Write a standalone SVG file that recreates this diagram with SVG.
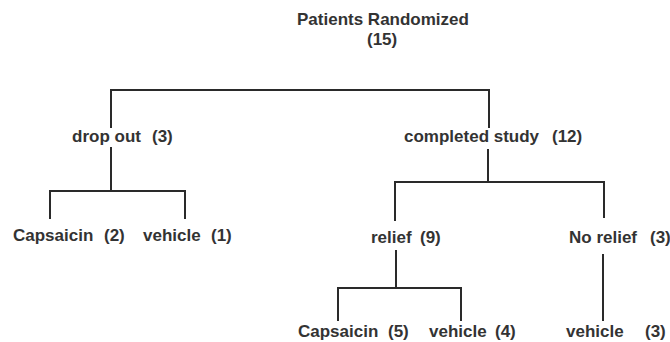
<svg xmlns="http://www.w3.org/2000/svg" width="670" height="342" viewBox="0 0 670 342">
<style>
.t{font-family:"Liberation Sans",Arial,sans-serif;font-size:17px;font-weight:bold;fill:#333;}
.c line{stroke:#2a2a2a;stroke-width:2;stroke-linecap:square;}
</style>
<rect width="670" height="342" fill="#fff"/>
<g class="c" id="connectors">
<line x1="111" y1="90" x2="489" y2="90"/>
<line x1="111" y1="90" x2="111" y2="127"/>
<line x1="489" y1="90" x2="489" y2="127"/>
<line x1="111" y1="148" x2="111" y2="191"/>
<line x1="50" y1="191" x2="185" y2="191"/>
<line x1="50" y1="191" x2="50" y2="218"/>
<line x1="185" y1="191" x2="185" y2="218"/>
<line x1="488" y1="150" x2="488" y2="182"/>
<line x1="395" y1="182" x2="604" y2="182"/>
<line x1="395" y1="182" x2="395" y2="220"/>
<line x1="604" y1="182" x2="604" y2="217"/>
<line x1="396" y1="251" x2="396" y2="288"/>
<line x1="338" y1="288" x2="461" y2="288"/>
<line x1="338" y1="288" x2="338" y2="320"/>
<line x1="461" y1="288" x2="461" y2="320"/>
<line x1="603" y1="255" x2="603" y2="320"/>
</g>
<g id="root"><text class="t" x="297" y="25">Patients Randomized</text><text class="t" x="367" y="45">(15)</text></g>
<g id="dropout"><text class="t" x="72" y="142">drop out</text><text class="t" x="152" y="142">(3)</text></g>
<g id="completed"><text class="t" x="404" y="142">completed study</text><text class="t" x="552" y="142">(12)</text></g>
<g id="capsaicin2"><text class="t" x="13" y="241">Capsaicin</text><text class="t" x="104" y="241">(2)</text></g>
<g id="vehicle1"><text class="t" x="143" y="241">vehicle</text><text class="t" x="211" y="241">(1)</text></g>
<g id="relief"><text class="t" x="371" y="243">relief</text><text class="t" x="420" y="243">(9)</text></g>
<g id="norelief"><text class="t" x="569" y="243">No relief</text><text class="t" x="650" y="243">(3)</text></g>
<g id="capsaicin5"><text class="t" x="298" y="337">Capsaicin</text><text class="t" x="388" y="337">(5)</text></g>
<g id="vehicle4"><text class="t" x="429" y="337">vehicle</text><text class="t" x="495" y="337">(4)</text></g>
<g id="vehicle3"><text class="t" x="566" y="337">vehicle</text><text class="t" x="645" y="337">(3)</text></g>
</svg>
